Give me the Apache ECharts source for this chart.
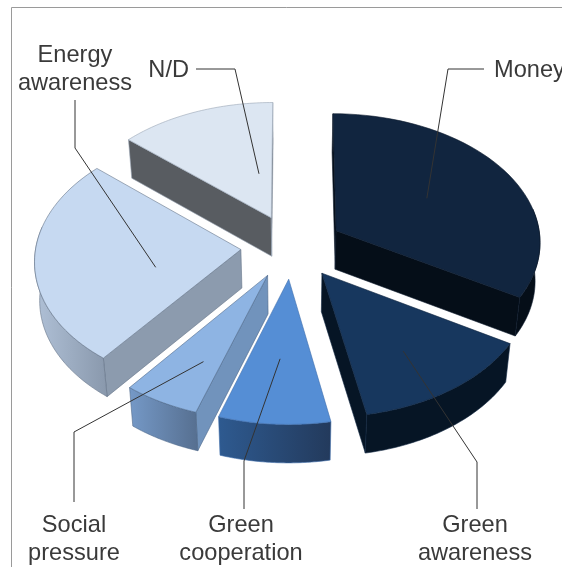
<!DOCTYPE html>
<html><head><meta charset="utf-8">
<style>html,body{margin:0;padding:0;background:#fff;overflow:hidden}#c{width:562px;height:567px}</style>
<script src="https://cdn.jsdelivr.net/npm/echarts@6/dist/echarts.min.js"></script>
</head><body><div id="c"></div>
<script>
const categories = ['Money','Green awareness','Green cooperation','Social pressure','Energy awareness','N/D'];
const values = [33.5,13.5,8,5.5,26,13.5];

const labelLines = [['Money'],['Green','awareness'],['Green','cooperation'],['Social','pressure'],['Energy','awareness'],['N/D']];
const topColors = ['#11253F','#17375E','#558ED5','#8EB4E3','#C6D9F1','#DCE6F2'];
const edgeColors = ['#050E18','#061525','#1F3A5F','#7193BC','#8C9BAE','#585C61'];
const outerFrom = ['#050E18','#061525','#2E5A90','#7599C7','#B0C1D7','#585C61'];
const outerTo = ['#050E18','#061525','#233A5C','#566F90','#8998AC','#585C61'];
const strokes = ['#0B1A2C','#0F2540','#3F6FAC','#4F6A8C','#66768A','#9AA6B5'];
// leader: anchor inside slice (fraction of sweep, fraction of radius), then elbow and end in px
const anchors = [[0.5,0.53],[0.54,0.67],[0.51,0.57],[0.35,0.68],[0.36,0.43],[0.79,0.37]];
const elbows = [[[448,69],[484,69]],[[477,462],[477,509]],[[244,461],[244,509]],[[74,432],[74,502]],[[75,148],[75,100]],[[235,69],[196,69]]];
const labelAt = [[494,70,'left'],[475,525,'center'],[241,525,'center'],[74,525,'center'],[75,55,'center'],[189,70,'right']];

const cx=292, cy=246.5, ax=205, ay=128.5, persp=0.078, explode=0.25, depth=38.5, shrink=0.98, fontPx=23.6, lineH=28.5;
const total = values.reduce((a,b)=>a+b,0);
const rad = d=>d*Math.PI/180;
let acc=0;
const slices = values.map(v=>{const s=acc/total*360; acc+=v; return {s,e:acc/total*360};});
function project(X,Y,low){const w=1/(1-persp*Y),x=cx+ax*X*w,y=cy+ay*Y*w;
  return low?[cx+(x-cx)*shrink,y+depth]:[x,y];}
function modelPoint(i,ang,r){const sl=slices[i],m=rad((sl.s+sl.e)/2),a=rad(ang);
  return [explode*Math.sin(m)+r*Math.sin(a), -explode*Math.cos(m)-r*Math.cos(a)];}
function arc(i,low,from,to){const pts=[],n=48;
  for(let k=0;k<=n;k++){const t=from+(to-from)*k/n,p=modelPoint(i,t,1);pts.push(project(p[0],p[1],low));}
  return pts;}
function apex(i,low){const p=modelPoint(i,0,0);return project(p[0],p[1],low);}
function poly(points,style){return {type:'polygon',shape:{points},style};}
const order = values.map((_,i)=>i).sort((a,b)=>apex(a)[1]-apex(b)[1]);
const cross=(a,b)=>a[0]*b[1]-a[1]*b[0];

function renderSlice(params){
  const i=order[params.dataIndex], st=strokes[i], sl=slices[i];
  const A=apex(i,false), B=apex(i,true), top=arc(i,false,sl.s,sl.e), low=arc(i,true,sl.s,sl.e);
  const first=top[0], last=top[top.length-1], firstL=low[0], lastL=low[low.length-1];
  const v1=[first[0]-A[0],first[1]-A[1]], v2=[last[0]-A[0],last[1]-A[1]], down=[0,1];
  const wall={fill:edgeColors[i],stroke:st,lineWidth:0.6};
  const kids=[];
  // an edge wall shows only when "down" leaves the slice across that edge
  if(cross(v1,down)*cross(v1,v2)<0) kids.push(poly([A,first,firstL,B],wall));
  if(cross(v2,down)*cross(v2,v1)<0) kids.push(poly([A,last,lastL,B],wall));
  const f=Math.max(sl.s,80), t=Math.min(sl.e,280);
  if(t>f){
    const oTop=arc(i,false,f,t), oLow=arc(i,true,f,t);
    kids.push(poly(oTop.concat(oLow.reverse()),{fill:new echarts.graphic.LinearGradient(0,0,1,0,[{offset:0,color:outerFrom[i]},{offset:1,color:outerTo[i]}]),stroke:st,lineWidth:0.6}));
  }
  kids.push(poly([A].concat(top),{fill:topColors[i],stroke:st,lineWidth:0.6}));
  return {type:'group',children:kids};
}
function renderLabel(params){
  const i=params.dataIndex, sl=slices[i], an=anchors[i];
  const p=modelPoint(i,sl.s+(sl.e-sl.s)*an[0],an[1]);
  const start=project(p[0],p[1],false), at=labelAt[i];
  const kids=[{type:'polyline',shape:{points:[start].concat(elbows[i])},style:{fill:null,stroke:'#333',lineWidth:1}}];
  labelLines[i].forEach((t,k)=>kids.push({type:'text',style:{text:t,x:at[0],y:at[1]+k*lineH,align:at[2],verticalAlign:'middle',
    fill:'#3A3A3A',font:fontPx+'px "Liberation Sans", Arial, sans-serif'}}));
  return {type:'group',children:kids};
}
const chart=echarts.init(document.getElementById('c'),null,{renderer:'canvas'});
chart.setOption({animation:false,
  graphic:[{type:'polyline',silent:true,shape:{points:[[11.5,567],[11.5,7.5],[562,7.5]]},style:{fill:null,stroke:'#9A9A9A',lineWidth:1}}],
  series:[
   {type:'custom',coordinateSystem:'none',silent:true,renderItem:renderSlice,data:order.map(i=>({name:categories[i],value:values[i]}))},
   {type:'custom',coordinateSystem:'none',silent:true,renderItem:renderLabel,data:categories.map((n,i)=>({name:n,value:values[i]}))}
  ]});
</script></body></html>
